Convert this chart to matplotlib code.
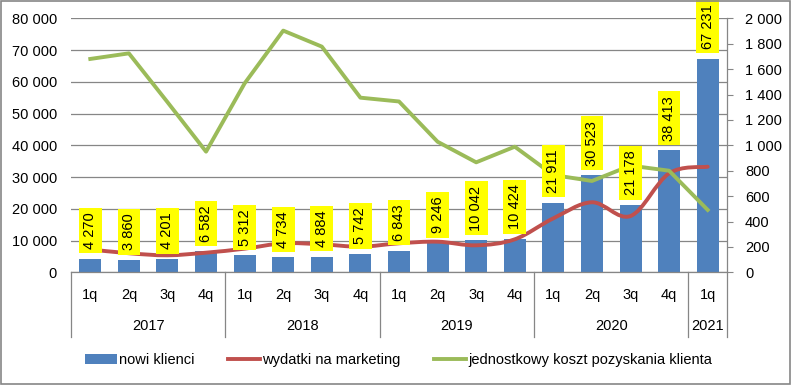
import matplotlib
matplotlib.use('Agg')
import matplotlib.pyplot as plt
from matplotlib.path import Path
from matplotlib.patches import PathPatch, Rectangle, Patch
from matplotlib.lines import Line2D
import matplotlib.transforms as mtransforms

# ---------------- data ----------------
quarters = ['1q', '2q', '3q', '4q'] * 4 + ['1q']
years = ['2017', '2018', '2019', '2020', '2021']
year_sizes = [4, 4, 4, 4, 1]
nowi_klienci = [4270, 3860, 4201, 6582, 5312, 4734, 4884, 5742, 6843, 9246,
                10042, 10424, 21911, 30523, 21178, 38413, 67231]
wydatki = [7200, 6000, 5350, 6180, 7440, 9130, 8810, 8070, 9130, 9640,
           8500, 10390, 17000, 22050, 17730, 31180, 33260]
koszt = [1680, 1724, 1340, 950, 1488, 1903, 1777, 1375, 1345, 1028,
         866, 989, 766, 719, 840, 800, 491]
series_names = ['nowi klienci', 'wydatki na marketing',
                'jednostkowy koszt pozyskania klienta']
left_ticks = list(range(0, 80001, 10000))
right_ticks = list(range(0, 2001, 200))

BLUE = '#4F81BD'
RED = '#C0504D'
GREEN = '#9BBB59'
GRAY = '#868686'
FONT = 'Liberation Sans'
FS = 10.5

plt.rcParams['font.family'] = [FONT, 'DejaVu Sans']


def fmt(v):
    return f"{v:,}".replace(',', ' ')


fig = plt.figure(figsize=(7.92, 3.85), dpi=100)
ax = fig.add_axes([71 / 792, 1 - 272.3 / 385, 656 / 792, 254 / 385])
ax2 = ax.twinx()

n = len(nowi_klienci)
xs = list(range(n))

# bars
ax.bar(xs, nowi_klienci, width=0.57, color=BLUE, zorder=2)

# smoothed red line (Catmull-Rom -> Bezier) on left axis
pts = list(zip(xs, wydatki))
verts = [pts[0]]
codes = [Path.MOVETO]
for i in range(n - 1):
    p0 = pts[i - 1] if i > 0 else pts[i]
    p1 = pts[i]
    p2 = pts[i + 1]
    p3 = pts[i + 2] if i + 2 < n else pts[i + 1]
    c1 = (p1[0] + (p2[0] - p0[0]) / 6, p1[1] + (p2[1] - p0[1]) / 6)
    c2 = (p2[0] - (p3[0] - p1[0]) / 6, p2[1] - (p3[1] - p1[1]) / 6)
    verts += [c1, c2, p2]
    codes += [Path.CURVE4] * 3
ax.add_patch(PathPatch(Path(verts, codes), fill=False, ec=RED, lw=2.8,
                       zorder=3, capstyle='round', joinstyle='round'))

ax.set_xlim(-0.5, n - 0.5)
ax.set_ylim(0, 80000)
ax.set_yticks(left_ticks)
ax.set_yticklabels([fmt(v) for v in left_ticks], fontsize=FS)
ax.tick_params(axis='y', length=0, pad=10)
ax.set_xticks([])
ax.yaxis.grid(True, color=GRAY, lw=0.9)
ax.set_axisbelow(True)
for s in ['top', 'left', 'right']:
    ax.spines[s].set_visible(False)
ax.spines['bottom'].set_color(GRAY)
ax.spines['bottom'].set_linewidth(0.9)

# green line on right axis
ax2.plot(xs, koszt, color=GREEN, lw=2.8, zorder=2, solid_joinstyle='round')
ax2.set_ylim(0, 2000)
ax2.set_yticks(right_ticks)
ax2.set_yticklabels([fmt(v) for v in right_ticks], fontsize=FS)
ax2.tick_params(axis='y', direction='out', length=4, color=GRAY, pad=9)
for s in ['top', 'left', 'bottom']:
    ax2.spines[s].set_visible(False)
ax2.spines['right'].set_color(GRAY)
ax2.spines['right'].set_linewidth(0.9)

# data labels (on top of everything)
for i, v in enumerate(nowi_klienci):
    ax2.annotate(fmt(v), xy=(i, v), xycoords=ax.transData,
                 xytext=(0, 7), textcoords='offset points',
                 rotation=90, ha='center', va='bottom', fontsize=FS,
                 bbox=dict(boxstyle='square,pad=0.3', fc='#FFFF00', ec='none'),
                 zorder=5, annotation_clip=False)

# category axis (multi-level)
trans = mtransforms.blended_transform_factory(ax.transData, ax.transAxes)
sep_bottom = (272.3 - 337) / 254
q_y = (272.3 - 295) / 254
y_y = (272.3 - 326) / 254
for i, q in enumerate(quarters):
    ax.text(i, q_y, q, transform=trans, ha='center', va='center', fontsize=FS)
start = 0
bounds = [-0.5]
for yr, sz in zip(years, year_sizes):
    ax.text(start + (sz - 1) / 2, y_y, yr, transform=trans, ha='center',
            va='center', fontsize=FS)
    start += sz
    bounds.append(start - 0.5)
for b in bounds:
    ax.plot([b, b], [0, sep_bottom], transform=trans, color=GRAY, lw=0.9,
            clip_on=False)

# legend
handles = [Patch(facecolor=BLUE, edgecolor='none'),
           Line2D([0], [0], color=RED, lw=2.8),
           Line2D([0], [0], color=GREEN, lw=2.8)]
fig.legend(handles, series_names, loc='center', bbox_to_anchor=(0.503, 1 - 360 / 385),
           ncol=3, frameon=False, handlelength=2.2, handletextpad=0.15,
           columnspacing=2.3, fontsize=FS)

# outer border
fig.patches.append(Rectangle((0.5 / 792, 1.5 / 385), 1 - 3 / 792, 1 - 2.5 / 385,
                             transform=fig.transFigure, fill=False, ec=GRAY,
                             lw=1.2))

fig.savefig('out.png', dpi=100)
